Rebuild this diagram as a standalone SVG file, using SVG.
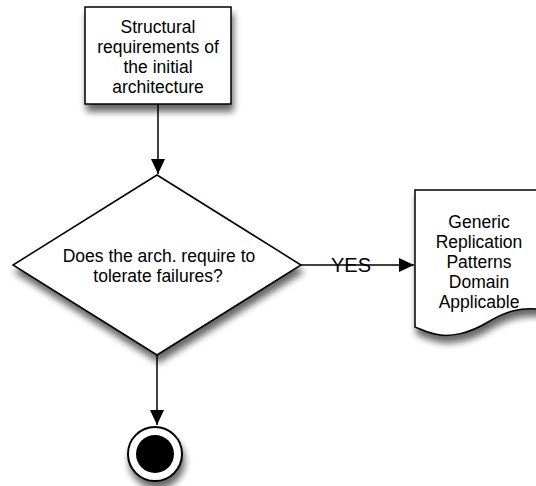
<svg xmlns="http://www.w3.org/2000/svg" width="536" height="486" viewBox="0 0 536 486">
  <style>
    .shape { fill: #ffffff; stroke: #000000; stroke-width: 1.5; }
    .txt { font-family: "Liberation Sans", Arial, Helvetica, sans-serif; font-size: 17.5px; fill: #000000; text-anchor: middle; }
    .edge { stroke: #000000; stroke-width: 1.5; fill: none; }
  </style>
  <defs>
    <filter id="shadow" x="-20%" y="-20%" width="150%" height="160%">
      <feGaussianBlur in="SourceAlpha" stdDeviation="3.5"/>
      <feOffset dx="2" dy="7" result="off"/>
      <feComponentTransfer><feFuncA type="linear" slope="0.6"/></feComponentTransfer>
      <feMerge><feMergeNode/><feMergeNode in="SourceGraphic"/></feMerge>
    </filter>
    <marker id="arrow" markerWidth="16" markerHeight="14" refX="15" refY="7" orient="auto" markerUnits="userSpaceOnUse">
      <path d="M0,0 L15,7 L0,14 Z" fill="#000000"/>
    </marker>
  </defs>

  <g id="connectors">
    <line class="edge" x1="158" y1="104" x2="158" y2="174" marker-end="url(#arrow)"/>
    <line class="edge" x1="301" y1="265" x2="414" y2="265" marker-end="url(#arrow)"/>
    <line class="edge" x1="157" y1="355" x2="157" y2="425" marker-end="url(#arrow)"/>
  </g>

  <g id="start-box">
    <rect class="shape" x="85" y="7" width="146" height="97" filter="url(#shadow)"/>
    <text class="txt" x="158" y="33">Structural</text>
    <text class="txt" x="158" y="53">requirements of</text>
    <text class="txt" x="158" y="73">the initial</text>
    <text class="txt" x="158" y="93">architecture</text>
  </g>

  <g id="decision">
    <polygon class="shape" points="157,175 301,265 157,355 13,265" filter="url(#shadow)"/>
    <text class="txt" x="159" y="262">Does the arch. require to</text>
    <text class="txt" x="158" y="282">tolerate failures?</text>
  </g>

  <g id="yes-label">
    <text class="txt" x="351" y="272" style="font-size:20px">YES</text>
  </g>

  <g id="document">
    <path class="shape" d="M415,190 H545 V310 C520,306 505,312 488,322 C470,333 450,338 435,334 C425,332 420,329 415,327 Z" filter="url(#shadow)"/>
    <text class="txt" x="479" y="228">Generic</text>
    <text class="txt" x="479" y="248">Replication</text>
    <text class="txt" x="479" y="268">Patterns</text>
    <text class="txt" x="479" y="288">Domain</text>
    <text class="txt" x="479" y="308">Applicable</text>
  </g>

  <g id="end">
    <circle cx="155" cy="454" r="27" fill="#ffffff" stroke="#000000" stroke-width="2" filter="url(#shadow)"/>
    <circle cx="155" cy="454" r="19" fill="#000000"/>
  </g>
</svg>
